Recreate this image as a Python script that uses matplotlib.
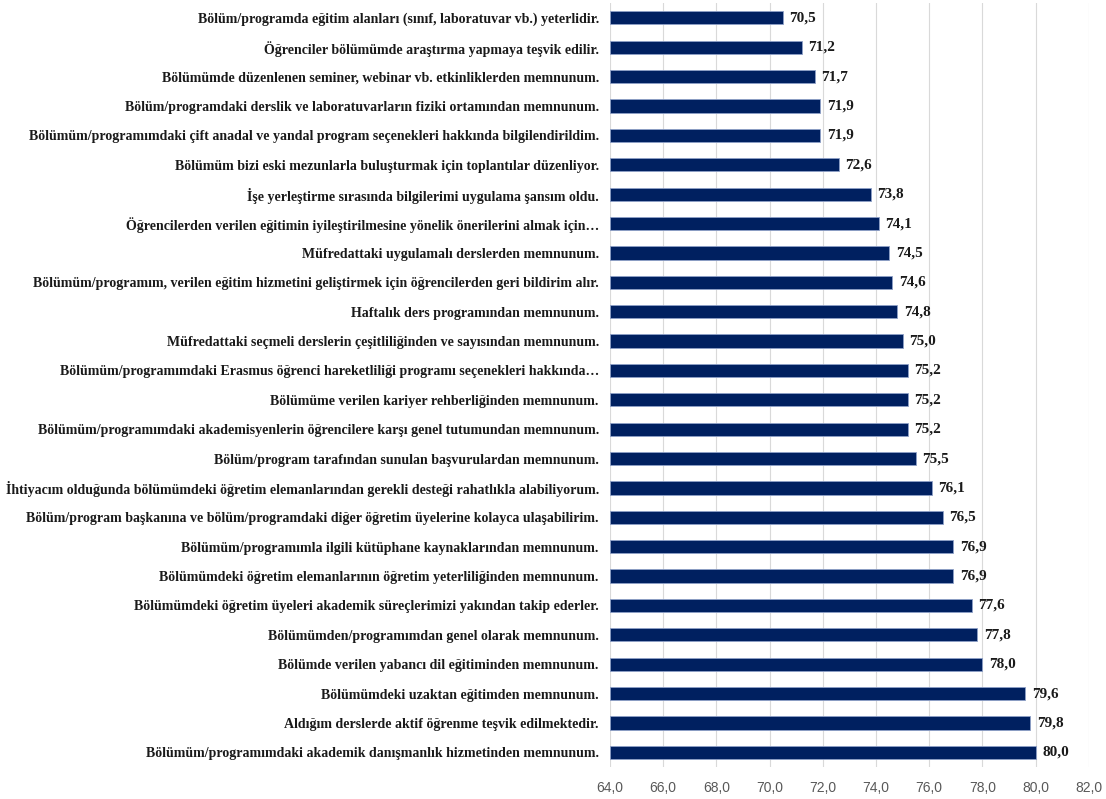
import matplotlib.pyplot as plt
from matplotlib.ticker import FuncFormatter, MultipleLocator

# top to bottom, as in the chart
labels = [
    "Bölüm/programda eğitim alanları (sınıf, laboratuvar vb.) yeterlidir.",
    "Öğrenciler bölümümde araştırma yapmaya teşvik edilir.",
    "Bölümümde düzenlenen seminer, webinar vb. etkinliklerden memnunum.",
    "Bölüm/programdaki derslik ve laboratuvarların fiziki ortamından memnunum.",
    "Bölümüm/programımdaki çift anadal ve yandal program seçenekleri hakkında bilgilendirildim.",
    "Bölümüm bizi eski mezunlarla buluşturmak için toplantılar düzenliyor.",
    "İşe yerleştirme sırasında bilgilerimi uygulama şansım oldu.",
    "Öğrencilerden verilen eğitimin iyileştirilmesine yönelik önerilerini almak için…",
    "Müfredattaki uygulamalı derslerden memnunum.",
    "Bölümüm/programım, verilen eğitim hizmetini geliştirmek için öğrencilerden geri bildirim alır.",
    "Haftalık ders programından memnunum.",
    "Müfredattaki seçmeli derslerin çeşitliliğinden ve sayısından memnunum.",
    "Bölümüm/programımdaki Erasmus öğrenci hareketliliği programı seçenekleri hakkında…",
    "Bölümüme verilen kariyer rehberliğinden memnunum.",
    "Bölümüm/programımdaki akademisyenlerin öğrencilere karşı genel tutumundan memnunum.",
    "Bölüm/program tarafından sunulan başvurulardan memnunum.",
    "İhtiyacım olduğunda bölümümdeki öğretim elemanlarından gerekli desteği rahatlıkla alabiliyorum.",
    "Bölüm/program başkanına ve bölüm/programdaki diğer öğretim üyelerine kolayca ulaşabilirim.",
    "Bölümüm/programımla ilgili kütüphane kaynaklarından memnunum.",
    "Bölümümdeki öğretim elemanlarının öğretim yeterliliğinden memnunum.",
    "Bölümümdeki öğretim üyeleri akademik süreçlerimizi yakından takip ederler.",
    "Bölümümden/programımdan genel olarak memnunum.",
    "Bölümde verilen yabancı dil eğitiminden memnunum.",
    "Bölümümdeki uzaktan eğitimden memnunum.",
    "Aldığım derslerde aktif öğrenme teşvik edilmektedir.",
    "Bölümüm/programımdaki akademik danışmanlık hizmetinden memnunum.",
]
values = [70.5, 71.2, 71.7, 71.9, 71.9, 72.6, 73.8, 74.1, 74.5, 74.6, 74.8, 75.0, 75.2,
          75.2, 75.2, 75.5, 76.1, 76.5, 76.9, 76.9, 77.6, 77.8, 78.0, 79.6, 79.8, 80.0]

fig = plt.figure(figsize=(11.06, 7.99), dpi=100)
ax = fig.add_axes([0.5515, 0.040, 0.433, 0.956])

y = list(range(len(labels)))
bars = ax.barh(y, [v - 64 for v in values], left=64, height=0.45,
               color='#002060', edgecolor='#8ea0c8', linewidth=0.6, zorder=3)
ax.set_ylim(len(labels) - 0.5, -0.5)
ax.set_xlim(64, 82)
ax.xaxis.set_major_locator(MultipleLocator(2))
ax.xaxis.set_major_formatter(FuncFormatter(lambda x, p: f'{x:.1f}'.replace('.', ',')))

ax.set_yticks(y)
ax.set_yticklabels(labels, fontfamily='Liberation Serif', fontweight='bold',
                   fontsize=10, color='#1a1a1a')
for t in ax.get_xticklabels():
    t.set_fontfamily(['Liberation Sans Narrow', 'Liberation Sans'])
    t.set_fontsize(10)
    t.set_color('#595959')

ax.tick_params(axis='y', length=0, pad=8)
ax.tick_params(axis='x', length=0, pad=10)
ax.grid(axis='x', color='#d9d9d9', linewidth=0.8, zorder=0)
for s in ax.spines.values():
    s.set_visible(False)

for bar, v in zip(bars, values):
    ax.text(bar.get_x() + bar.get_width() + 0.25, bar.get_y() + bar.get_height() / 2,
            f'{v:.1f}'.replace('.', ','), ha='left', va='center',
            fontfamily='Liberation Serif', fontweight='bold', fontsize=11, color='#1a1a1a')

fig.savefig('out.png', dpi=100)
